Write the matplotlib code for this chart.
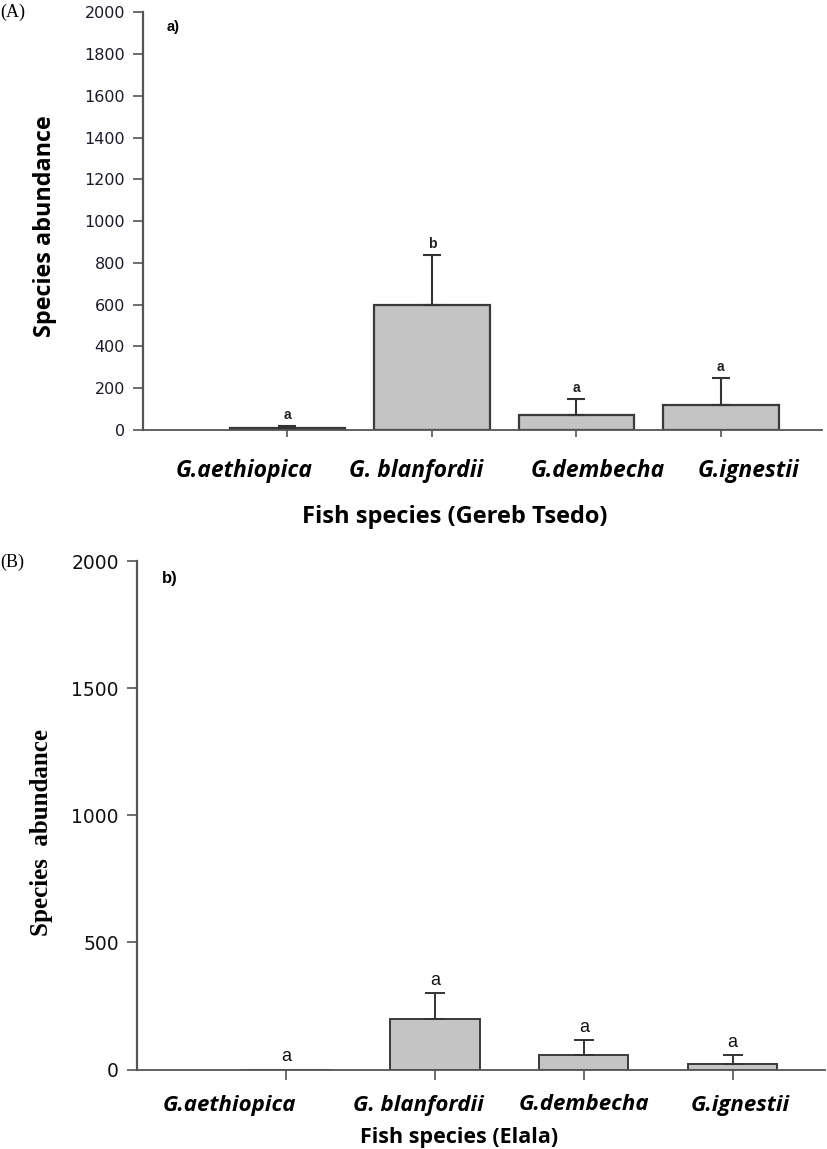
import numpy as np
import matplotlib
matplotlib.use("Agg")
import matplotlib.pyplot as plt
from matplotlib.transforms import ScaledTranslation

# ---------------- data ----------------
species = ["G.aethiopica", "G. blanfordii", "G.dembecha", "G.ignestii"]

gereb_mean = [8, 600, 72, 122]
gereb_err = [12, 240, 78, 128]
gereb_letters = ["a", "b", "a", "a"]

elala_mean = [0, 200, 58, 20]
elala_err = [0, 102, 58, 38]
elala_letters = ["a", "a", "a", "a"]

yticks_a = [0, 200, 400, 600, 800, 1000, 1200, 1400, 1600, 1800, 2000]
yticks_b = [0, 500, 1000, 1500, 2000]

# ---------------- style ----------------
CAL = ["Open Sans", "DejaVu Sans"]
ARIAL = ["Liberation Sans", "DejaVu Sans"]
WIDE = ["DejaVu Sans"]
TIMES = ["Liberation Serif", "DejaVu Serif"]
BAR_FILL = "#c4c4c4"
BAR_EDGE = "#3a3a3a"
AXC = "#555555"

fig = plt.figure(figsize=(8.27, 11.49), dpi=100)

def style_axes(ax, xmax):
    ax.set_xlim(0, xmax)
    ax.set_ylim(0, 2000)
    for s in ["top", "right"]:
        ax.spines[s].set_visible(False)
    ax.spines["left"].set_color(AXC)
    ax.spines["bottom"].set_color(AXC)
    ax.spines["left"].set_linewidth(1.6)
    ax.spines["bottom"].set_linewidth(1.3)
    ax.tick_params(axis="both", direction="out", colors=AXC, width=1.2)

# ================= Panel A =================
axA = fig.add_axes([143/827, 1-430/1149, 679/827, (430-12.3)/1149])
xA = np.arange(1, len(species)+1)
style_axes(axA, 4.7)
axA.bar(xA, gereb_mean, width=0.80, color=BAR_FILL, edgecolor=BAR_EDGE,
        linewidth=1.6, zorder=2)
axA.errorbar(xA, gereb_mean, yerr=[np.zeros(len(xA)), gereb_err], fmt="none",
             ecolor="#333333", elinewidth=1.5, capsize=6.5, capthick=1.5, zorder=3)
for xi, m, e, lt in zip(xA, gereb_mean, gereb_err, gereb_letters):
    axA.annotate(lt, (xi, m+e), xytext=(0, 2.5), textcoords="offset points",
                 ha="center", va="bottom", fontsize=10, fontweight="bold",
                 family=ARIAL, color="#222222")
axA.set_yticks(yticks_a)
axA.set_yticklabels([str(v) for v in yticks_a], family=WIDE, fontsize=11.5,
                    color="#1a1a2a")
axA.tick_params(axis="y", length=7, pad=6)
axA.tick_params(axis="x", length=5, pad=16)
axA.set_xticks(xA)
axA.set_xticklabels(species, family=CAL, fontsize=16.5, fontweight="bold",
                    fontstyle="italic", color="black")
offsA = [-0.30, -0.11, 0.15, 0.19]
for lab, o in zip(axA.get_xticklabels(), offsA):
    lab.set_transform(lab.get_transform() + ScaledTranslation(o*144.5/100, 0, fig.dpi_scale_trans))
fig.text(455/827, 1-517/1149, "Fish species (Gereb Tsedo)",
         ha="center", va="center", family=CAL, fontsize=17, fontweight="bold")
fig.text(45/827, 1-226/1149, "Species abundance",
         ha="center", va="center", rotation=90, family=CAL, fontsize=16.8,
         fontweight="bold")
fig.text(167/827, 1-27/1149, "a)", ha="left",
         va="center", family=ARIAL, fontsize=10.5, fontweight="bold")
fig.text(0.0, 1-12/1149, "(A)", ha="left", va="center", family=TIMES, fontsize=13)

# ================= Panel B =================
axB = fig.add_axes([137/827, 1-1069.5/1149, 688/827, (1069.5-561)/1149])
xB = np.arange(1, len(species)+1)
style_axes(axB, 4.62)
axB.bar(xB, elala_mean, width=0.60, color=BAR_FILL, edgecolor=BAR_EDGE,
        linewidth=1.4, zorder=2)
mask = np.array(elala_err) > 0
axB.errorbar(xB[mask], np.array(elala_mean)[mask],
             yerr=[np.zeros(mask.sum()), np.array(elala_err)[mask]], fmt="none",
             ecolor="#333333", elinewidth=1.4, capsize=7, capthick=1.4, zorder=3)
for xi, m, e, lt in zip(xB, elala_mean, elala_err, elala_letters):
    axB.annotate(lt, (xi, m+e), xytext=(0, 3), textcoords="offset points",
                 ha="center", va="bottom", fontsize=13, family=ARIAL,
                 color="#111111")
axB.set_yticks(yticks_b)
axB.set_yticklabels([str(v) for v in yticks_b], family=WIDE, fontsize=13.5,
                    color="#111111")
axB.tick_params(axis="y", length=7, pad=6)
axB.tick_params(axis="x", length=7, pad=11)
axB.set_xticks(xB)
axB.set_xticklabels(species, family=CAL, fontsize=16, fontweight="bold",
                    fontstyle="italic", color="black")
offsB = [-0.38, -0.11, 0.0, 0.05]
for lab, o in zip(axB.get_xticklabels(), offsB):
    lab.set_transform(lab.get_transform() + ScaledTranslation(o*149/100, 0, fig.dpi_scale_trans))
fig.text(459/827, 1-1137/1149, "Fish species (Elala)", ha="center", va="center",
         family=CAL, fontsize=15.5, fontweight="bold")
fig.text(42/827, 1-832/1149, "Species  abundance", ha="center", va="center",
         rotation=90, family=TIMES, fontsize=18, fontweight="bold")
fig.text(162/827, 1-579/1149, "b)", ha="left", va="center", family=ARIAL,
         fontsize=12, fontweight="bold")
fig.text(0.0, 1-562/1149, "(B)", ha="left", va="center", family=TIMES, fontsize=13)

fig.savefig("out.png", dpi=100)
